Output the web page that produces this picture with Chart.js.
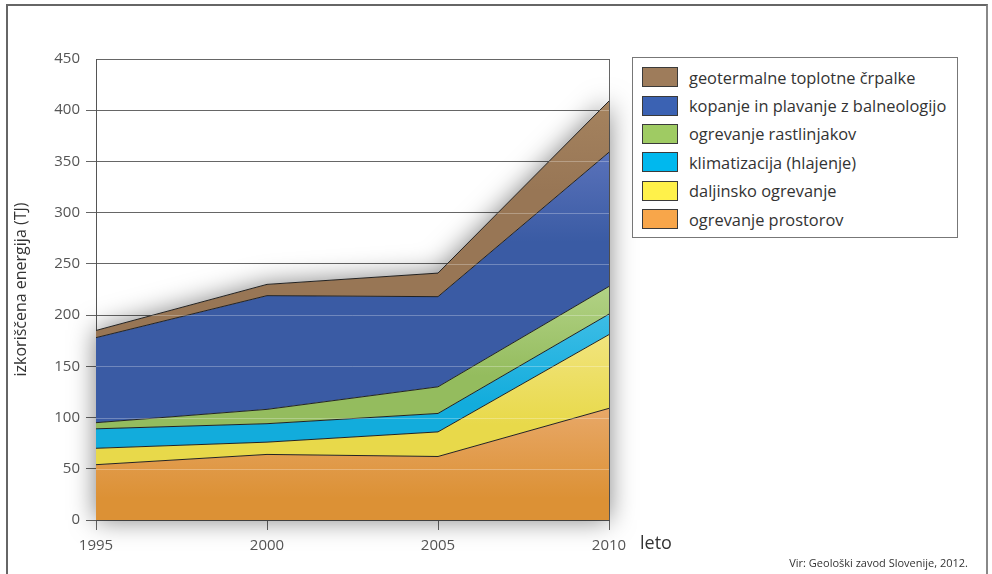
<!DOCTYPE html>
<html>
<head>
<meta charset="utf-8">
<script src="https://cdn.jsdelivr.net/npm/chart.js@4/dist/chart.umd.min.js"></script>
<style>
  body { margin: 0; background: #fff; font-family: "Open Sans", sans-serif; }
  #wrap { position: relative; width: 992px; height: 574px; overflow: hidden; }
  #frame { position: absolute; left: 6px; top: 4px; width: 982px; height: 620px;
           border: 2px solid #666; border-right-color: #888; box-sizing: border-box; }
  #chart { position: absolute; left: 0; top: 0; }
  #legend { position: absolute; left: 632px; top: 57px; width: 326px; height: 181px;
            border: 1px solid #777; box-sizing: border-box; padding-top: 5px; background: #fff; }
  .row { display: flex; align-items: center; height: 28.4px; }
  .sw { width: 36px; height: 20px; margin-left: 9px; margin-right: 11px;
        border: 1px solid #3a3a3a; box-sizing: border-box; }
  .row span { font-size: 16.4px; color: #333; white-space: nowrap; }
  #leto { position: absolute; left: 640px; top: 530px; font-size: 18px; color: #333; }
  #vir { position: absolute; right: 24px; top: 555px; font-size: 11px; color: #333; }
</style>
</head>
<body>
<div id="wrap">
  <div id="frame"></div>
  <canvas id="chart" width="992" height="574"></canvas>
  <div id="legend"></div>
  <div id="leto">leto</div>
  <div id="vir">Vir: Geološki zavod Slovenije, 2012.</div>
</div>
<script>
// leta in porabljena energija po namenih (TJ)
const years = ['1995', '2000', '2005', '2010'];
const prostorov = [54, 64, 62, 109];
const daljinsko = [16, 12, 24, 72];
const klimatizacija = [19, 18, 18, 20];
const rastlinjakov = [6, 14, 26, 27];
const kopanje = [83, 111, 88, 131];
const crpalke = [7, 11, 23, 50];

const yMax = 450;
const yStep = 50;

const series = [
  { label: 'ogrevanje prostorov', data: prostorov, key: '#F8A64A', light: '#E8A868', dark: '#DC9135' },
  { label: 'daljinsko ogrevanje', data: daljinsko, key: '#FFF14A', light: '#F1E47E', dark: '#E8D94A' },
  { label: 'klimatizacija (hlajenje)', data: klimatizacija, key: '#00B8EE', light: '#3DBDE6', dark: '#12ACDC' },
  { label: 'ogrevanje rastlinjakov', data: rastlinjakov, key: '#9FCB63', light: '#B2D285', dark: '#94BC5E' },
  { label: 'kopanje in plavanje z balneologijo', data: kopanje, key: '#3B62B3', light: '#5A72BA', dark: '#3A5BA4' },
  { label: 'geotermalne toplotne črpalke', data: crpalke, key: '#9E7C5B', light: '#A5835F', dark: '#987655' }
];

// navpični preliv za vsak pas, od vrha pasu navzdol
function bandFill(idx) {
  return function (ctx) {
    const chart = ctx.chart;
    const s = series[idx];
    const y = chart.scales.y;
    if (!chart.chartArea || !y) return s.dark;
    let top = 0;
    for (let i = 0; i < years.length; i++) {
      let sum = 0;
      for (let k = 0; k <= idx; k++) sum += series[k].data[i];
      top = Math.max(top, sum);
    }
    const y0 = y.getPixelForValue(top);
    const g = chart.ctx.createLinearGradient(0, y0, 0, y0 + 90);
    g.addColorStop(0, s.light);
    g.addColorStop(1, s.dark);
    return g;
  };
}

const datasets = series.map(function (s, i) {
  return {
    label: s.label,
    data: s.data,
    fill: i === 0 ? 'origin' : '-1',
    backgroundColor: bandFill(i),
    borderColor: '#222',
    borderWidth: 1,
    pointRadius: 0,
    tension: 0
  };
});

function topPath(chart) {
  const pts = chart.getDatasetMeta(chart.data.datasets.length - 1).data;
  const base = chart.scales.y.getPixelForValue(0);
  const c = chart.ctx;
  c.beginPath();
  c.moveTo(pts[0].x, base);
  pts.forEach(function (p) { c.lineTo(p.x, p.y); });
  c.lineTo(pts[pts.length - 1].x, base);
  c.closePath();
}

// mehka senca pod celotnim kupom
const areaShadow = {
  id: 'areaShadow',
  beforeDatasetsDraw(chart) {
    const c = chart.ctx;
    c.save();
    c.shadowColor = 'rgba(0,0,0,0.5)';
    c.shadowBlur = 26;
    c.fillStyle = '#fff';
    topPath(chart);
    c.fill();
    c.restore();
  },
  afterDatasetsDraw(chart) {
    // svetle mrežne črte čez obarvana polja
    const c = chart.ctx;
    const y = chart.scales.y;
    const a = chart.chartArea;
    c.save();
    topPath(chart);
    c.clip();
    c.strokeStyle = 'rgba(255,255,255,0.28)';
    c.lineWidth = 1;
    for (let v = yStep; v < yMax; v += yStep) {
      const py = Math.round(y.getPixelForValue(v)) + 0.5;
      c.beginPath();
      c.moveTo(a.left, py);
      c.lineTo(a.right, py);
      c.stroke();
    }
    c.restore();
  }
};

const tickFont = { family: 'Open Sans', size: 15 };

new Chart(document.getElementById('chart'), {
  type: 'line',
  data: { labels: years, datasets: datasets },
  plugins: [areaShadow],
  options: {
    responsive: false,
    animation: false,
    devicePixelRatio: 1,
    layout: { padding: { left: 8, top: 59, right: 383, bottom: 14 } },
    plugins: { legend: { display: false }, tooltip: { enabled: false } },
    scales: {
      x: {
        offset: false,
        border: { color: '#555', width: 1 },
        grid: {
          color: function (ctx) { return ctx.index === years.length - 1 ? '#666' : 'rgba(0,0,0,0)'; },
          tickColor: '#666',
          tickLength: 10,
          lineWidth: 1
        },
        ticks: { font: tickFont, color: '#555', padding: 7, maxRotation: 0, autoSkip: false },
        afterFit: function (scale) { scale.height = 40; }
      },
      y: {
        stacked: true,
        min: 0,
        max: yMax,
        border: { color: '#555', width: 1 },
        grid: {
          color: '#666',
          lineWidth: 1,
          tickLength: 10,
          tickColor: function (ctx) { return ctx.tick && ctx.tick.value === yMax ? 'rgba(0,0,0,0)' : '#666'; }
        },
        ticks: { stepSize: yStep, font: tickFont, color: '#555', padding: 6 },
        title: {
          display: true,
          text: 'izkoriščena energija (TJ)',
          font: { family: 'Open Sans', size: 16 },
          color: '#333',
          padding: { top: 4, bottom: 4 }
        },
        afterFit: function (scale) { scale.width = 88; }
      }
    }
  }
});

// legenda, od zgornjega pasu navzdol
const legend = document.getElementById('legend');
series.slice().reverse().forEach(function (s) {
  const row = document.createElement('div');
  row.className = 'row';
  const sw = document.createElement('div');
  sw.className = 'sw';
  sw.style.background = s.key;
  const txt = document.createElement('span');
  txt.textContent = s.label;
  row.appendChild(sw);
  row.appendChild(txt);
  legend.appendChild(row);
});
</script>
</body>
</html>
